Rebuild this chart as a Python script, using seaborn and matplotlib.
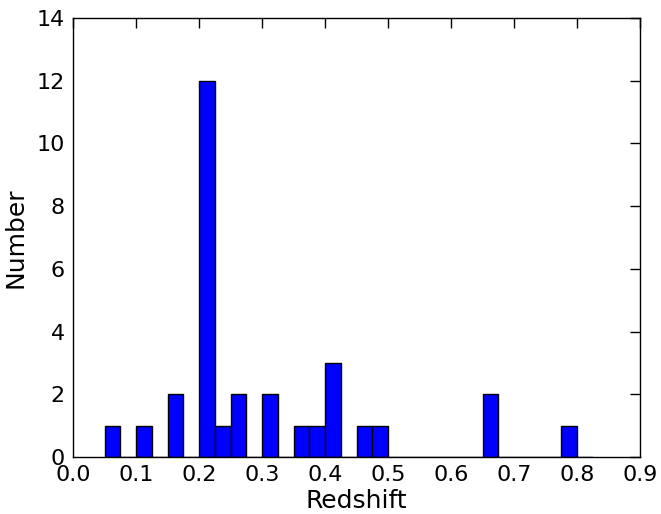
import numpy as np
import pandas as pd
import matplotlib
matplotlib.use("Agg")
import matplotlib.pyplot as plt
import seaborn as sns

# Bin centres (redshift) and counts
bin_centres = [0.0625, 0.1125, 0.1625, 0.2125, 0.2375, 0.2625, 0.3125,
               0.3625, 0.3875, 0.4125, 0.4625, 0.4875, 0.6625, 0.7875]
counts = [1, 1, 2, 12, 1, 2, 2, 1, 1, 3, 1, 1, 2, 1]
bin_edges = np.arange(0.05, 0.8251, 0.025)

redshifts = np.repeat(bin_centres, counts)
df = pd.DataFrame({"Redshift": redshifts})

sns.set_style("white")
plt.rcParams['font.family'] = ['DejaVu Sans']
plt.rcParams['text.color'] = 'black'
plt.rcParams['axes.labelcolor'] = 'black'
plt.rcParams['xtick.color'] = 'black'
plt.rcParams['ytick.color'] = 'black'

fig = plt.figure(figsize=(6.61, 5.14), dpi=100)
ax = fig.add_axes([73/661, 1-457/514, (640-73)/661, (457-18)/514])

sns.histplot(data=df, x="Redshift", bins=bin_edges, color="#0000ff",
             edgecolor="black", linewidth=1.0, alpha=1.0, ax=ax)

ax.set_xlim(0.0, 0.9)
ax.set_ylim(0, 14)
ax.set_xticks(np.arange(0, 0.91, 0.1))
ax.set_xticklabels([f"{v:.1f}" for v in np.arange(0, 0.91, 0.1)])
ax.set_yticks(range(0, 15, 2))
ax.set_xlabel("Redshift", fontsize=18, labelpad=3)
ax.set_ylabel("Number", fontsize=18, labelpad=6)
ax.tick_params(direction="in", top=True, right=True, length=7, width=1,
               labelsize=16, pad=6, colors="black")
for s in ax.spines.values():
    s.set_visible(True)
    s.set_color("black")
    s.set_linewidth(1.0)

fig.savefig("out.png", dpi=100)
